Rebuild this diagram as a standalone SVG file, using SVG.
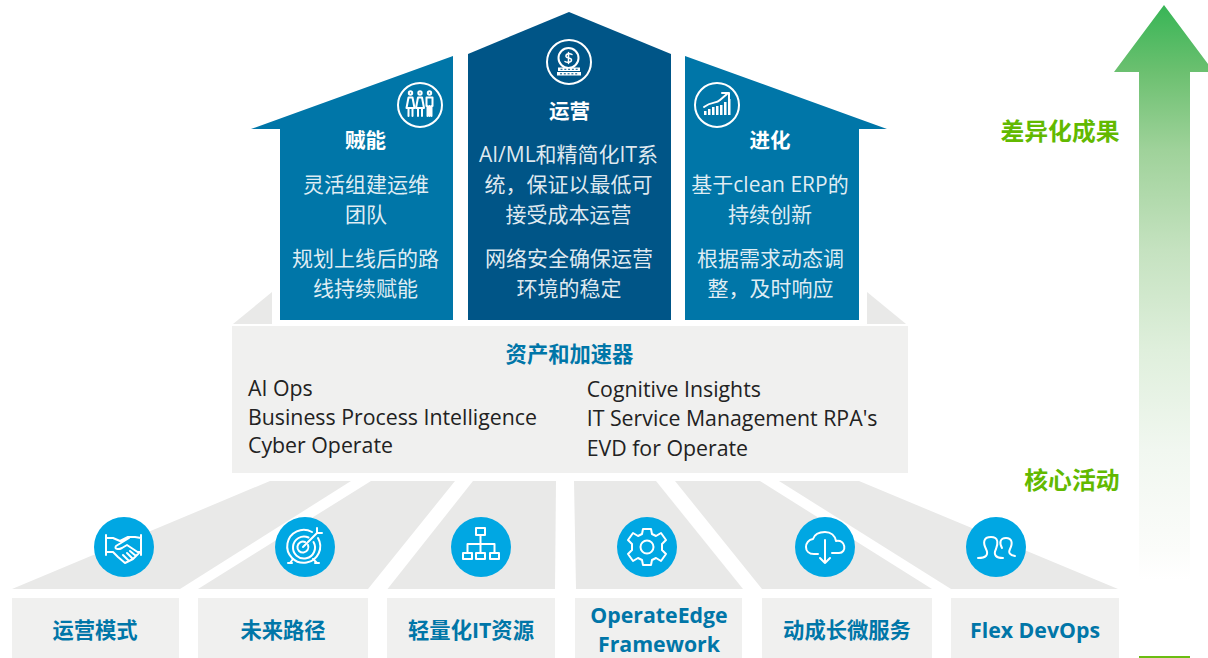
<svg xmlns="http://www.w3.org/2000/svg" width="1208" height="658" viewBox="0 0 1208 658">
<defs>
<linearGradient id="arrowGrad" gradientUnits="userSpaceOnUse" x1="0" y1="5" x2="0" y2="580">
<stop offset="0" stop-color="#38b556"/><stop offset="0.117" stop-color="#6cc070"/><stop offset="0.252" stop-color="#9fd29a"/><stop offset="0.426" stop-color="#c5e2c0"/><stop offset="0.6" stop-color="#dfefdc"/><stop offset="0.774" stop-color="#f1f7f0"/><stop offset="0.948" stop-color="#fbfcfa"/><stop offset="1" stop-color="#ffffff"/>
</linearGradient>
</defs>
<style>
text{font-family:"Open Sans","Noto Sans CJK SC",sans-serif}
.w{fill:#fff;font-size:21px;text-anchor:middle;fill-opacity:.88}
.h{fill:#fff;font-size:20.500px;font-weight:700;text-anchor:middle}
.l{fill:#0076a8;font-size:21.300px;font-weight:700;text-anchor:middle}
.a{fill:#222;font-size:21.300px}
.g{fill:#62b900;font-size:23.800px;font-weight:700;text-anchor:end}
.tz{fill:#e9e9e8}
.bx{fill:#f0f0ef}
.c{fill:#00a7e3}
.i{fill:none;stroke:#fff;stroke-width:2;stroke-linecap:round;stroke-linejoin:round}
.o{fill:none;stroke:#fff;stroke-width:2}
</style>
<g id="growth-arrow">
<polygon points="1164,5 1214,72 1190,72 1190,590 1139,590 1139,72 1114,72" fill="url(#arrowGrad)"/>
<rect x="1139" y="656" width="51" height="2" fill="#6bbd12"/>
<text class="g" x="1119.500" y="140">差异化成果</text>
<text class="g" x="1119.500" y="489">核心活动</text>
</g>
<g id="side-triangles">
<polygon class="tz" points="233,324 272,292 272,324"/>
<polygon class="tz" points="867,292 906,324 867,324"/>
</g>
<g id="house-left">
<polygon points="251,129 453,56 453,320 280,320 280,129" fill="#0076a8"/>
<circle class="o" cx="420" cy="105" r="22"/>
<g class="i" stroke-width="1.500"><circle cx="410.500" cy="93" r="1.700"/><circle cx="420" cy="93" r="1.700"/><circle cx="429.500" cy="93" r="1.700"/>
<path d="M408.500 97.500H412.500L414.500 108H406.500ZM408.500 108V116M412.500 108V116"/><path d="M418 97.500H422L424 108H416ZM418 108V116M422 108V116"/><path d="M426.500 97.500H432.500V106H431.500V116M426.500 97.500V106H427.500V116M429.500 106V116"/></g>
<text class="h" x="365.500" y="148">贼能</text>
<text class="w" x="366" y="192">灵活组建运维</text>
<text class="w" x="366" y="222">团队</text>
<text class="w" x="365.500" y="266">规划上线后的路</text>
<text class="w" x="365.500" y="296">线持续赋能</text>
</g>
<g id="house-middle">
<polygon points="468,54 569,12 671,54 671,320 468,320" fill="#005587"/>
<circle class="o" cx="569" cy="62" r="22"/>
<g class="i"><circle cx="568.500" cy="58" r="10"/><path d="M572 54.500C570 53 565.500 53.500 566 56.500 566.500 58.500 571.500 57.500 571.500 60 571.500 62.500 567 63 565 61.500M568.500 52.500V63.500" stroke-width="1.500"/></g>
<rect x="558" y="67.500" width="22" height="3.500" fill="#fff"/><rect x="557" y="72" width="24" height="3.500" fill="#fff"/>
<path d="M560.500 69.300H578M560 73.800H578.500" fill="none" stroke="#005587" stroke-width="1" stroke-dasharray="2 1.800"/>
<text class="h" x="569.500" y="119">运营</text>
<text class="w" x="568.500" y="162">AI/ML和精简化IT系</text>
<text class="w" x="568.500" y="192">统，保证以最低可</text>
<text class="w" x="568.500" y="222">接受成本运营</text>
<text class="w" x="569" y="266">网络安全确保运营</text>
<text class="w" x="569" y="296">环境的稳定</text>
</g>
<g id="house-right">
<polygon points="685,56 887,129 859,129 859,320 685,320" fill="#0076a8"/>
<circle class="o" cx="717" cy="105" r="22"/>
<g fill="#fff"><rect x="704" y="111" width="2.500" height="4"/><rect x="708" y="109" width="2.500" height="6"/><rect x="712" y="107" width="2.500" height="8"/><rect x="716" y="106" width="2.500" height="9"/><rect x="720" y="105" width="2.500" height="10"/><rect x="724" y="102" width="2.500" height="13"/><rect x="728" y="99" width="2.500" height="16"/></g>
<path class="i" d="M704 107C712 101 716 104 720 100L727 94M722 93H729V99"/>
<text class="h" x="770" y="148">进化</text>
<text class="w" x="770" y="192">基于clean ERP的</text>
<text class="w" x="770" y="222">持续创新</text>
<text class="w" x="770.500" y="266">根据需求动态调</text>
<text class="w" x="770.500" y="296">整，及时响应</text>
</g>
<g id="assets">
<rect class="bx" x="232" y="326" width="676" height="147"/>
<text class="l" x="569.500" y="362">资产和加速器</text>
<text class="a" x="248" y="395.500">AI Ops</text>
<text class="a" x="248" y="424.500">Business Process Intelligence</text>
<text class="a" x="248" y="452.500">Cyber Operate</text>
<text class="a" x="586.700" y="396.500">Cognitive Insights</text>
<text class="a" x="586.700" y="425.500">IT Service Management RPA's</text>
<text class="a" x="586.700" y="455.500">EVD for Operate</text>
</g>
<g id="pillar-1">
<polygon class="tz" points="12,589 270,481 351,481 180,589"/>
<rect class="bx" x="12" y="598" width="167" height="60"/>
<circle class="c" cx="124" cy="547" r="30"/>
<path class="i" d="M106 535V555M141 535V555M106 538H113L120 541 128 537H135L141 538M129 538 116 546C114 549 118 550 122 548L127 545 139 553 136 556 130 551M136 556 133 559 127 553M133 559 129 561 123 555M129 561 125 563 118 557 113 552H106M141 552H138" stroke-width="1.800"/>
<text class="l" x="95" y="638">运营模式</text>
</g>
<g id="pillar-2">
<polygon class="tz" points="198,589 371,481 455,481 368,589"/>
<rect class="bx" x="198" y="598" width="170" height="60"/>
<circle class="c" cx="305" cy="547" r="30"/>
<g class="i" stroke-width="2"><path d="M312 532A16.500 16.500 0 1 0 318 538"/><path d="M308.500 537.500A11 11 0 1 0 313.500 542"/><path d="M305 542A5.500 5.500 0 1 0 308 545"/><path d="M303 547L317 533M317 528V533H322"/><path d="M293 559L290 563M313 559L317 563M288 563H292M315 563H319"/></g>
<text class="l" x="283" y="638">未来路径</text>
</g>
<g id="pillar-3">
<polygon class="tz" points="387.500,589 473,481 556,481 555,589"/>
<rect class="bx" x="387" y="598" width="168" height="60"/>
<circle class="c" cx="481" cy="547" r="30"/>
<g class="i" stroke-width="1.800"><rect x="476" y="528" width="9" height="7"/><rect x="463" y="553" width="9" height="6"/><rect x="476" y="553" width="9" height="6"/><rect x="490" y="553" width="9" height="6"/><path d="M480.500 535V553M467.500 553V544H494.500V553"/></g>
<text class="l" x="471" y="638">轻量化IT资源</text>
</g>
<g id="pillar-4">
<polygon class="tz" points="576,589 574,481 656,481 743,589"/>
<rect class="bx" x="575" y="598" width="167" height="60"/>
<circle class="c" cx="647" cy="547" r="30"/>
<circle class="i" cx="647" cy="547" r="6.500" stroke-width="2"/>
<path class="i" d="M643 529H651L652 534 656 536 661 533 666 540 662 544V550L666 554 661 561 656 558 652 560 651 565H643L642 560 638 558 633 561 628 554 632 550V544L628 540 633 533 638 536 642 534Z" stroke-width="1.800"/>
<text class="l" x="659" y="623">OperateEdge</text>
<text class="l" x="659" y="652">Framework</text>
</g>
<g id="pillar-5">
<polygon class="tz" points="762,589 675,481 760,481 932,589"/>
<rect class="bx" x="762" y="598" width="170" height="60"/>
<circle class="c" cx="825" cy="547" r="30"/>
<path class="i" d="M818 554H814C803 554 804 540 813 539 815 533 821 532 825 532 831 532 835 536 836 541 846 539 847 553 839 553H832M825 540V563M820 558 825 563 830 558"/>
<text class="l" x="847" y="638">动成长微服务</text>
</g>
<g id="pillar-6">
<polygon class="tz" points="951,589 779,481 859,481 1118,589"/>
<rect class="bx" x="951" y="598" width="168" height="60"/>
<circle class="c" cx="996" cy="547" r="30"/>
<path class="i" d="M978 558C986 558 989 555 986 549 983 543 983 537 991 537 999 537 998 544 996 549 993 555 996 558 1003 558M1002 548C999 543 1000 538 1006 538 1012 538 1013 543 1010 549 1008 553 1010 555 1015 556" stroke-width="1.800"/>
<text class="l" x="1035" y="638">Flex DevOps</text>
</g>
</svg>
